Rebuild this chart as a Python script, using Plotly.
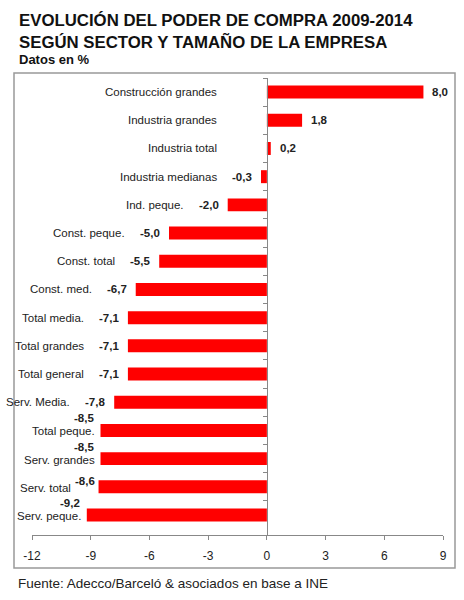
import plotly.graph_objects as go

categories = ["Construcción grandes", "Industria grandes", "Industria total", "Industria medianas",
              "Ind. peque.", "Const. peque.", "Const. total", "Const. med.", "Total media.",
              "Total grandes", "Total general", "Serv. Media.", "Total peque.", "Serv. grandes",
              "Serv. total", "Serv. peque."]
values = [8.0, 1.8, 0.2, -0.3, -2.0, -5.0, -5.5, -6.7, -7.1, -7.1, -7.1, -7.8, -8.5, -8.5, -8.6, -9.2]
x_ticks = [-12, -9, -6, -3, 0, 3, 6, 9]

title_lines = ["EVOLUCIÓN DEL PODER DE COMPRA 2009-2014", "SEGÚN SECTOR Y TAMAÑO DE LA EMPRESA"]
subtitle = "Datos en %"
source = "Fuente: Adecco/Barceló &amp; asociados en base a INE"

FONT = "Liberation Sans, Arial, sans-serif"
LBL = dict(size=11.5, color="#222", family=FONT)
VAL = dict(size=11.5, color="#222", family=FONT)

def fmt(v):
    return f"{v:.1f}".replace(".", ",")

fig = go.Figure()
fig.add_trace(go.Bar(
    x=values, y=categories, orientation="h",
    marker=dict(color="#ff0000", line=dict(width=0)),
    width=0.46, hoverinfo="skip",
))

annotations = []
for c, v in zip(categories, values):
    end = min(v, 0)
    if v > 0:
        annotations.append(dict(x=v, y=c, text=f"<b>{fmt(v)}</b>", xanchor="left", xshift=7,
                                showarrow=False, font=VAL))
        annotations.append(dict(x=0, y=c, text=c, xanchor="right", xshift=-48,
                                showarrow=False, font=LBL))
    elif v > -8.0:
        annotations.append(dict(x=v, y=c, text=f"<b>{fmt(v)}</b>", xanchor="right", xshift=-7,
                                showarrow=False, font=VAL))
        annotations.append(dict(x=end, y=c, text=c, xanchor="right", xshift=-42,
                                showarrow=False, font=LBL))
    elif len(c) < 12:
        # crowded: value raised, label to its left
        annotations.append(dict(x=v, y=c, text=f"<b>{fmt(v)}</b>", xanchor="right", xshift=-2, yshift=6,
                                showarrow=False, font=VAL))
        annotations.append(dict(x=v, y=c, text=c, xanchor="right", xshift=-26, yshift=-1,
                                showarrow=False, font=LBL))
    else:
        # crowded: value stacked above label
        annotations.append(dict(x=v, y=c, text=f"<b>{fmt(v)}</b>", xanchor="right", xshift=-5, yshift=12,
                                showarrow=False, font=VAL))
        annotations.append(dict(x=v, y=c, text=c, xanchor="right", xshift=-4, yshift=-1,
                                showarrow=False, font=LBL))

# Titles and source
annotations.append(dict(xref="paper", yref="paper", x=(17 - 32) / 411, y=(535 - 31) / 457,
                        xanchor="left", yanchor="middle",
                        text="<b>" + "<br>".join(title_lines) + "</b>", showarrow=False, align="left",
                        font=dict(size=16.8, color="#111", family=FONT)))
annotations.append(dict(xref="paper", yref="paper", x=(17 - 32) / 411, y=(535 - 60) / 457,
                        xanchor="left", yanchor="middle",
                        text=f"<b>{subtitle}</b>", showarrow=False,
                        font=dict(size=13, color="#111", family=FONT)))
annotations.append(dict(xref="paper", yref="paper", x=(16 - 32) / 411, y=(535 - 583) / 457,
                        xanchor="left", yanchor="middle",
                        text=source, showarrow=False,
                        font=dict(size=13.5, color="#222", family=FONT)))

fig.update_layout(
    width=464, height=600,
    margin=dict(l=32, r=21, t=78, b=65),
    paper_bgcolor="white", plot_bgcolor="rgba(0,0,0,0)",
    showlegend=False,
    annotations=annotations,
    xaxis=dict(range=[-12, 9], tickvals=x_ticks, ticktext=[str(t) for t in x_ticks],
               showgrid=False, zeroline=False, showline=True, linecolor="#888", linewidth=1,
               ticks="outside", ticklen=4, tickcolor="#888", ticklabelstandoff=6,
               tickfont=dict(size=12, color="#222", family=FONT)),
    yaxis=dict(categoryorder="array", categoryarray=categories, autorange="reversed",
               showticklabels=False, showgrid=False, zeroline=False,
               anchor="free", position=12 / 21, showline=True, linecolor="#888", linewidth=1,
               ticks="outside", ticklen=4, tickcolor="#888", tickson="boundaries"),
    shapes=[dict(type="rect", xref="paper", yref="paper",
                 x0=(14 - 32) / 411, x1=(455 - 32) / 411,
                 y0=(535 - 568) / 457, y1=(535 - 73) / 457,
                 line=dict(color="#999", width=1.5), fillcolor="rgba(0,0,0,0)", layer="above")],
)

fig.write_html("out.html")
